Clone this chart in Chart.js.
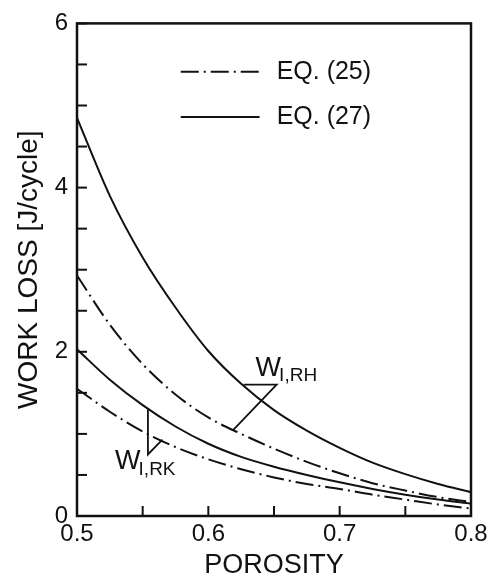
<!DOCTYPE html>
<html>
<head>
<meta charset="utf-8">
<script src="https://cdn.jsdelivr.net/npm/chart.js@4.4.1/dist/chart.umd.min.js"></script>
<style>
  html, body { margin: 0; padding: 0; background: #fff; }
  #wrap { width: 499px; height: 582px; }
</style>
</head>
<body>
<div id="wrap"><canvas id="lossChart" width="499" height="582"></canvas></div>
<script>
// porosity grid and work loss curves (J/cycle)
const porosity = [0.5, 0.525, 0.55, 0.575, 0.6, 0.625, 0.65, 0.675, 0.7, 0.725, 0.75, 0.775, 0.8];
const eq27RH = [4.85, 3.9, 3.15, 2.54, 2.01, 1.61, 1.29, 1.04, 0.83, 0.65, 0.51, 0.39, 0.29];
const eq25RH = [2.93, 2.33, 1.85, 1.48, 1.2, 1.0, 0.82, 0.66, 0.52, 0.4, 0.31, 0.23, 0.17];
const eq27RK = [2.03, 1.66, 1.35, 1.09, 0.88, 0.72, 0.6, 0.5, 0.41, 0.33, 0.26, 0.2, 0.15];
const eq25RK = [1.55, 1.27, 1.03, 0.84, 0.69, 0.57, 0.47, 0.39, 0.33, 0.26, 0.2, 0.14, 0.09];

// axis ticks
const xTickLabels = [0.5, 0.6, 0.7, 0.8];
const yTickLabels = [0, 2, 4, 6];

// legend entries and curve labels (data units)
const legendNames = ['EQ. (25)', 'EQ. (27)'];
const legendLineX = [0.579, 0.639];
const legendRowY = [5.41, 4.86];
const legendTextX = 0.652;
const rhLeader = [[0.627, 1.6], [0.652, 1.6], [0.619, 1.05]];
const rkLeader = [[0.554, 1.3], [0.554, 0.75], [0.565, 0.93]];
const curveLabels = [
    { main: 'W', sub: 'I,RH', x: 0.636, y: 1.8 },
    { main: 'W', sub: 'I,RK', x: 0.529, y: 0.66 }
];

const INK = '#111';
const FONT = "'Liberation Sans', Arial, sans-serif";
const DASH_DOT = [18, 5, 2, 5];

Chart.defaults.font.family = FONT;
Chart.defaults.color = INK;

function toPoints(ys) {
    return porosity.map((x, i) => ({ x: x, y: ys[i] }));
}

function curve(label, ys, dashed) {
    return {
        label: label,
        data: toPoints(ys),
        borderColor: INK,
        borderWidth: 2,
        borderDash: dashed ? DASH_DOT : [],
        pointRadius: 0,
        fill: false,
        cubicInterpolationMode: 'monotone'
    };
}

// frame, inward ticks, legend and curve labels
const decorPlugin = {
    id: 'decor',
    afterDatasetsDraw(chart) {
        const ctx = chart.ctx;
        const xs = chart.scales.x;
        const ys = chart.scales.y;
        const a = chart.chartArea;
        ctx.save();
        ctx.strokeStyle = INK;
        ctx.fillStyle = INK;
        ctx.lineCap = 'butt';

        // frame
        ctx.lineWidth = 2.5;
        ctx.strokeRect(a.left, a.top, a.right - a.left, a.bottom - a.top);

        // inward ticks
        ctx.lineWidth = 2;
        xs.ticks.forEach(t => {
            const px = xs.getPixelForValue(t.value);
            ctx.beginPath();
            ctx.moveTo(px, a.bottom);
            ctx.lineTo(px, a.bottom - 10);
            ctx.stroke();
        });
        ys.ticks.forEach(t => {
            const py = ys.getPixelForValue(t.value);
            ctx.beginPath();
            ctx.moveTo(a.left, py);
            ctx.lineTo(a.left + 10, py);
            ctx.stroke();
        });

        // legend
        ctx.lineWidth = 2;
        legendNames.forEach((name, i) => {
            const py = ys.getPixelForValue(legendRowY[i]);
            ctx.setLineDash(i === 0 ? DASH_DOT : []);
            ctx.beginPath();
            ctx.moveTo(xs.getPixelForValue(legendLineX[0]), py);
            ctx.lineTo(xs.getPixelForValue(legendLineX[1]), py);
            ctx.stroke();
            ctx.setLineDash([]);
            ctx.font = '25px ' + FONT;
            ctx.textAlign = 'left';
            ctx.textBaseline = 'middle';
            ctx.fillText(name, xs.getPixelForValue(legendTextX), py);
        });

        // leader lines
        ctx.lineWidth = 1.8;
        [rhLeader, rkLeader].forEach(path => {
            ctx.beginPath();
            path.forEach((p, i) => {
                const px = xs.getPixelForValue(p[0]);
                const py = ys.getPixelForValue(p[1]);
                if (i === 0) ctx.moveTo(px, py); else ctx.lineTo(px, py);
            });
            ctx.stroke();
        });

        // W_I,RH and W_I,RK
        curveLabels.forEach(l => {
            const px = xs.getPixelForValue(l.x);
            const py = ys.getPixelForValue(l.y);
            ctx.textAlign = 'left';
            ctx.textBaseline = 'middle';
            ctx.font = '27px ' + FONT;
            ctx.fillText(l.main, px, py);
            const w = ctx.measureText(l.main).width;
            ctx.font = '19px ' + FONT;
            ctx.fillText(l.sub, px + w - 2, py + 8);
        });
        ctx.restore();
    }
};

new Chart(document.getElementById('lossChart').getContext('2d'), {
    type: 'line',
    data: {
        datasets: [
            curve('EQ. (27) RH', eq27RH, false),
            curve('EQ. (25) RH', eq25RH, true),
            curve('EQ. (27) RK', eq27RK, false),
            curve('EQ. (25) RK', eq25RK, true)
        ]
    },
    options: {
        responsive: false,
        animation: false,
        layout: { padding: { left: 12, right: 28, top: 17, bottom: 0 } },
        plugins: {
            legend: { display: false },
            tooltip: { enabled: false }
        },
        scales: {
            x: {
                type: 'linear',
                min: 0.5,
                max: 0.8,
                grid: { display: false, drawTicks: false },
                border: { display: false },
                ticks: {
                    stepSize: 0.05,
                    autoSkip: false,
                    maxRotation: 0,
                    padding: 4,
                    font: { size: 24 },
                    callback: v => {
                        const hit = xTickLabels.find(t => Math.abs(t - v) < 1e-6);
                        return hit !== undefined ? hit.toFixed(1) : '';
                    }
                },
                title: {
                    display: true,
                    text: 'POROSITY',
                    font: { size: 27 },
                    padding: { top: 0, bottom: 0 }
                },
                afterFit: s => { s.height = 66; }
            },
            y: {
                min: 0,
                max: 6,
                grid: { display: false, drawTicks: false },
                border: { display: false },
                ticks: {
                    stepSize: 0.5,
                    autoSkip: false,
                    padding: 9,
                    font: { size: 24 },
                    callback: v => yTickLabels.includes(v) ? String(v) : ''
                },
                title: {
                    display: true,
                    text: 'WORK LOSS [J/cycle]',
                    font: { size: 28 },
                    padding: { top: 0, bottom: 4 }
                },
                afterFit: s => { s.width = 65; }
            }
        }
    },
    plugins: [decorPlugin]
});
</script>
</body>
</html>
